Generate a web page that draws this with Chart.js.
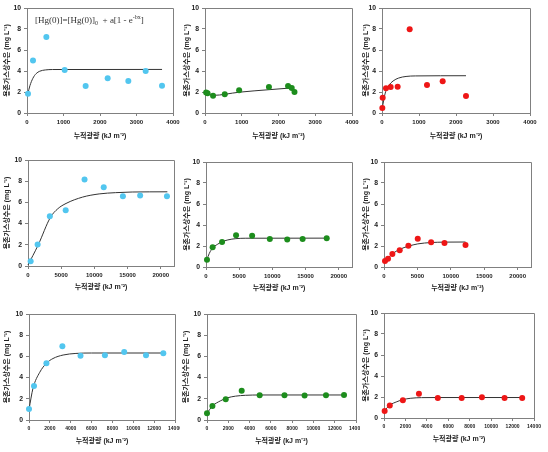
<!DOCTYPE html>
<html>
<head>
<meta charset="utf-8">
<script src="https://cdn.jsdelivr.net/npm/chart.js@4.4.0/dist/chart.umd.min.js"></script>
<style>
    html, body { margin: 0; padding: 0; background: #fff; width: 548px; height: 452px; overflow: hidden; }
    #wrap { position: relative; width: 548px; height: 452px; }
    .panel { position: absolute; }
    .panel canvas { display: block; }
</style>
</head>
<body>
<div id="wrap"></div>
<script>
'use strict';

// ---- data ----
const X_TITLE = '누적광량 (kJ m⁻²)';
const Y_TITLE = '용존가스상수은 (mg L⁻¹)';

const Y_TICKS = [0, 2, 4, 6, 8, 10];
const X_TICKS_R1 = [0, 1000, 2000, 3000, 4000];
const X_TICKS_R2 = [0, 5000, 10000, 15000, 20000];
const X_TICKS_R3 = [0, 2000, 4000, 6000, 8000, 10000, 12000, 14000];
const X_MAX_R1 = 4000;
const X_MAX_R2 = 22000;
const X_MAX_R3 = 14000;

// row 1
const P1_X = [27, 164, 530, 1032, 1607, 2210, 2776, 3251, 3699];
const P1_Y = [1.84, 5.0, 7.24, 4.1, 2.57, 3.3, 3.05, 4.0, 2.6];
const P1_FIT_X = [20, 80, 160, 250, 350, 500, 700, 3700];
const P1_FIT_Y = [1.8, 2.6, 3.3, 3.75, 3.98, 4.1, 4.14, 4.15];

const P2_X = [30, 70, 219, 538, 929, 1740, 2260, 2360, 2435];
const P2_Y = [1.95, 1.88, 1.65, 1.78, 2.16, 2.48, 2.58, 2.38, 2.0];
const P2_FIT_X = [20, 220, 930, 1740, 2330];
const P2_FIT_Y = [1.93, 1.68, 1.98, 2.22, 2.38];

const P3_X = [9, 18, 108, 234, 423, 748, 1216, 1640, 2270];
const P3_Y = [0.48, 1.46, 2.35, 2.48, 2.5, 7.97, 2.67, 3.02, 1.62];
const P3_FIT_X = [0, 50, 100, 180, 300, 450, 650, 900, 2270];
const P3_FIT_Y = [0.3, 1.3, 2.05, 2.6, 3.05, 3.33, 3.48, 3.53, 3.55];

// row 2
const P4_X = [400, 1450, 3290, 5680, 8520, 11410, 14300, 16900, 20940];
const P4_Y = [0.44, 2.02, 4.7, 5.27, 8.17, 7.44, 6.59, 6.66, 6.59];
const P4_FIT_X = [0, 750, 1545, 3390, 4490, 5730, 8225, 10720, 13210, 15700, 21000];
const P4_FIT_Y = [0.1, 1.0, 2.0, 4.6, 5.4, 5.9, 6.5, 6.8, 6.92, 6.98, 7.0];

const P5_X = [150, 1000, 2420, 4530, 6950, 9620, 12240, 14560, 18190];
const P5_Y = [0.7, 1.87, 2.38, 3.02, 2.98, 2.67, 2.63, 2.67, 2.73];
const P5_FIT_X = [100, 500, 1000, 1700, 2420, 3300, 4500, 6000, 18190];
const P5_FIT_Y = [0.65, 1.3, 1.8, 2.15, 2.4, 2.58, 2.7, 2.74, 2.75];

const P6_X = [150, 600, 1250, 2350, 3650, 5050, 7050, 9050, 12200];
const P6_Y = [0.57, 0.79, 1.24, 1.59, 2.03, 2.7, 2.35, 2.29, 2.1];
const P6_FIT_X = [100, 600, 1250, 2350, 3650, 5050, 7050, 9050, 12200];
const P6_FIT_Y = [0.55, 0.85, 1.25, 1.68, 1.98, 2.2, 2.33, 2.37, 2.38];

// row 3
const P7_X = [0, 480, 1670, 3200, 4940, 7280, 9130, 11220, 12880];
const P7_Y = [1.04, 3.2, 5.35, 6.95, 6.07, 6.1, 6.42, 6.1, 6.29];
const P7_FIT_X = [0, 385, 1030, 1670, 2300, 3270, 4500, 6000, 12880];
const P7_FIT_Y = [1.0, 3.0, 4.5, 5.35, 5.8, 6.13, 6.28, 6.32, 6.32];

const P8_X = [0, 510, 1760, 3260, 4950, 7280, 9170, 11180, 12875];
const P8_Y = [0.63, 1.32, 1.95, 2.77, 2.33, 2.33, 2.3, 2.33, 2.36];
const P8_FIT_X = [0, 510, 1250, 1880, 2680, 3600, 5000, 12875];
const P8_FIT_Y = [0.63, 1.32, 1.8, 2.08, 2.25, 2.33, 2.36, 2.36];

const P9_X = [60, 540, 1760, 3260, 5020, 7250, 9140, 11250, 12900];
const P9_Y = [0.67, 1.2, 1.68, 2.32, 1.9, 1.9, 1.97, 1.9, 1.9];
const P9_FIT_X = [0, 540, 1200, 1760, 2500, 3500, 5000, 12900];
const P9_FIT_Y = [0.65, 1.22, 1.55, 1.75, 1.88, 1.94, 1.95, 1.95];

// ---- style ----
const BLUE = '#52c6ef';
const GREEN = '#1d8d1d';
const RED = '#ee1616';
const FIT_COLOR = '#333';
const AXIS_COLOR = '#808080';
const TEXT_COLOR = '#222';
const FONT = "'Liberation Sans', Arial, 'Noto Sans CJK KR', sans-serif";
const TITLE_SIZE = 7;
const Y_TICK_SIZE = 6.8;

// layout: canvas box [x0,y0,x1,y1], plot area [l,t,r,b] in page pixels
const PANELS = [
    { x: P1_X, y: P1_Y, fx: P1_FIT_X, fy: P1_FIT_Y, color: BLUE, xTicks: X_TICKS_R1, xMax: X_MAX_R1, eq: true,
      box: [0, 3, 186, 144], area: [27, 8, 173, 113], yTitleX: 7.3, xTitleOff: 23, xTickSize: 6 },
    { x: P2_X, y: P2_Y, fx: P2_FIT_X, fy: P2_FIT_Y, color: GREEN, xTicks: X_TICKS_R1, xMax: X_MAX_R1,
      box: [181, 3, 364, 144], area: [205, 8, 352, 113], yTitleX: 187.3, xTitleOff: 23, xTickSize: 6 },
    { x: P3_X, y: P3_Y, fx: P3_FIT_X, fy: P3_FIT_Y, color: RED, xTicks: X_TICKS_R1, xMax: X_MAX_R1,
      box: [360, 3, 548, 144], area: [382, 8, 530, 113], yTitleX: 366, xTitleOff: 23, xTickSize: 6 },

    { x: P4_X, y: P4_Y, fx: P4_FIT_X, fy: P4_FIT_Y, color: BLUE, xTicks: X_TICKS_R2, xMax: X_MAX_R2,
      box: [0, 155, 186, 296], area: [28, 160, 174, 266], yTitleX: 7.3, xTitleOff: 21, xTickSize: 6 },
    { x: P5_X, y: P5_Y, fx: P5_FIT_X, fy: P5_FIT_Y, color: GREEN, xTicks: X_TICKS_R2, xMax: X_MAX_R2,
      box: [181, 155, 364, 296], area: [206, 162, 352, 267], yTitleX: 186.7, xTitleOff: 21, xTickSize: 6 },
    { x: P6_X, y: P6_Y, fx: P6_FIT_X, fy: P6_FIT_Y, color: RED, xTicks: X_TICKS_R2, xMax: X_MAX_R2,
      box: [360, 155, 548, 296], area: [384, 162, 531, 267], yTitleX: 366, xTitleOff: 21, xTickSize: 6 },

    { x: P7_X, y: P7_Y, fx: P7_FIT_X, fy: P7_FIT_Y, color: BLUE, xTicks: X_TICKS_R3, xMax: X_MAX_R3,
      box: [0, 307, 180, 450], area: [29, 314, 175, 420], yTitleX: 7.3, xTitleOff: 21, xTickSize: 5 },
    { x: P8_X, y: P8_Y, fx: P8_FIT_X, fy: P8_FIT_Y, color: GREEN, xTicks: X_TICKS_R3, xMax: X_MAX_R3,
      box: [180, 307, 360, 450], area: [207, 314, 356, 420], yTitleX: 186, xTitleOff: 21, xTickSize: 5 },
    { x: P9_X, y: P9_Y, fx: P9_FIT_X, fy: P9_FIT_Y, color: RED, xTicks: X_TICKS_R3, xMax: X_MAX_R3,
      box: [360, 307, 542, 450], area: [384, 313, 534, 418], yTitleX: 366, xTitleOff: 21, xTickSize: 5 },
];

// top + right edges of the plot box (left/bottom are the axis borders)
const framePlugin = {
    id: 'frame',
    afterDraw(chart) {
        const { ctx, chartArea: a } = chart;
        const top = Math.round(a.top - 0.5) + 0.5;
        const right = Math.round(a.right - 0.5) + 0.5;
        ctx.save();
        ctx.strokeStyle = AXIS_COLOR;
        ctx.lineWidth = 1;
        ctx.beginPath();
        ctx.moveTo(a.left, top);
        ctx.lineTo(right, top);
        ctx.lineTo(right, a.bottom);
        ctx.stroke();
        ctx.restore();
    }
};

// model equation in the first panel
const eqPlugin = {
    id: 'eq',
    afterDatasetsDraw(chart, args, opts) {
        if (!opts.show) return;
        const { ctx, chartArea } = chart;
        const big = "9px 'Liberation Serif', 'Times New Roman', serif";
        const small = "6px 'Liberation Serif', 'Times New Roman', serif";
        const parts = [
            ['[Hg(0)]=[Hg(0)]', big, 0],
            ['0', small, 3],
            ['  + a[1 - e', big, 0],
            ['-bx', small, -3.5],
            [']', big, 0],
        ];
        let x = chartArea.left + 8;
        const y = chartArea.top + 12.5;
        ctx.save();
        ctx.fillStyle = '#333';
        ctx.textBaseline = 'middle';
        ctx.textAlign = 'left';
        for (const [s, f, dy] of parts) {
            ctx.font = f;
            ctx.fillText(s, x, y + dy);
            x += ctx.measureText(s).width;
        }
        ctx.restore();
    }
};

function build(p) {
    const [x0, y0, x1, y1] = p.box;
    const [l, t, r, b] = p.area;
    const w = x1 - x0;
    const h = y1 - y0;

    const div = document.createElement('div');
    div.className = 'panel';
    div.style.left = x0 + 'px';
    div.style.top = y0 + 'px';
    div.style.width = w + 'px';
    div.style.height = h + 'px';
    const canvas = document.createElement('canvas');
    canvas.width = w;
    canvas.height = h;
    canvas.style.width = w + 'px';
    canvas.style.height = h + 'px';
    div.appendChild(canvas);
    document.getElementById('wrap').appendChild(div);

    const titleLH = TITLE_SIZE * 1.2;
    const xH = p.xTitleOff + titleLH / 2 + 1;
    const yW = l - x0;
    const yTitlePad = p.yTitleX - x0 - titleLH / 2;
    const titleFont = { family: FONT, size: TITLE_SIZE, weight: 'bold' };

    return new Chart(canvas, {
        type: 'scatter',
        data: {
            datasets: [
                {
                    data: p.x.map((v, i) => ({ x: v, y: p.y[i] })),
                    pointRadius: 3,
                    pointHoverRadius: 3,
                    pointBackgroundColor: p.color,
                    pointBorderColor: p.color,
                    pointBorderWidth: 0,
                    clip: false,
                },
                {
                    data: p.fx.map((v, i) => ({ x: v, y: p.fy[i] })),
                    showLine: true,
                    pointRadius: 0,
                    pointHoverRadius: 0,
                    borderColor: FIT_COLOR,
                    borderWidth: 1,
                    cubicInterpolationMode: 'monotone',
                    clip: false,
                },
            ]
        },
        options: {
            responsive: false,
            animation: false,
            events: [],
            layout: { padding: { left: 0, top: t - y0, right: x1 - r, bottom: h - (b - y0) - xH } },
            plugins: {
                legend: { display: false },
                tooltip: { enabled: false },
                eq: { show: !!p.eq },
            },
            scales: {
                x: {
                    type: 'linear',
                    min: 0,
                    max: p.xMax,
                    afterBuildTicks: s => { s.ticks = p.xTicks.map(v => ({ value: v })); },
                    afterFit: s => { s.height = xH; s.paddingLeft = 0; s.paddingRight = 0; },
                    grid: { drawOnChartArea: false, tickLength: 3, color: AXIS_COLOR },
                    border: { color: AXIS_COLOR, width: 1 },
                    ticks: {
                        color: TEXT_COLOR,
                        font: { family: FONT, size: p.xTickSize, weight: 'bold' },
                        maxRotation: 0, minRotation: 0, autoSkip: false, padding: 3,
                        callback: v => String(v),
                    },
                    title: { display: true, text: X_TITLE, color: TEXT_COLOR, font: titleFont, padding: { top: 0, bottom: 1 } },
                },
                y: {
                    type: 'linear',
                    min: 0,
                    max: 10,
                    afterBuildTicks: s => { s.ticks = Y_TICKS.map(v => ({ value: v })); },
                    afterFit: s => { s.width = yW; s.paddingTop = 0; s.paddingBottom = 0; },
                    grid: { drawOnChartArea: false, tickLength: 3, color: AXIS_COLOR },
                    border: { color: AXIS_COLOR, width: 1 },
                    ticks: {
                        color: TEXT_COLOR,
                        font: { family: FONT, size: Y_TICK_SIZE, weight: 'bold' },
                        padding: 3,
                        callback: v => String(v),
                    },
                    title: { display: true, text: Y_TITLE, color: TEXT_COLOR, font: titleFont, padding: { top: yTitlePad, bottom: 0 } },
                },
            },
        },
        plugins: [framePlugin, eqPlugin],
    });
}

PANELS.forEach(build);
</script>
</body>
</html>
